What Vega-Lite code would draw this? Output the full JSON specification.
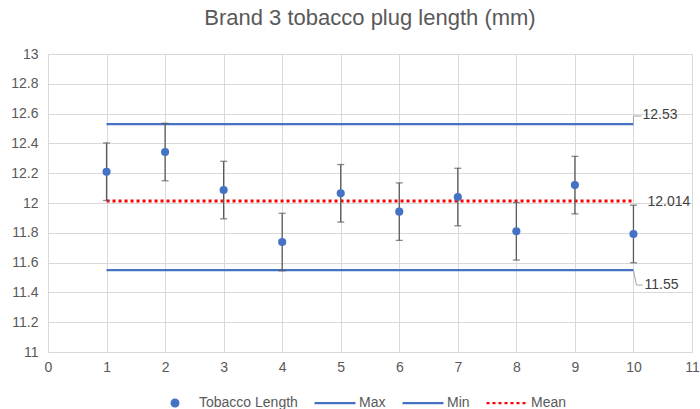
{
  "$schema": "https://vega.github.io/schema/vega-lite/v6.json",
  "width": 644,
  "height": 298,
  "autosize": {"type": "none"},
  "padding": {"left": 48, "top": 54, "right": 8, "bottom": 57},
  "background": "white",
  "title": {
    "text": "Brand 3 tobacco plug length (mm)",
    "font": "Liberation Sans",
    "fontSize": 22,
    "fontWeight": "normal",
    "color": "#595959",
    "anchor": "middle",
    "offset": 17
  },
  "config": {
    "view": {"stroke": null},
    "axis": {
      "labelFont": "Liberation Sans",
      "labelFontSize": 14,
      "labelColor": "#595959",
      "gridColor": "#d9d9d9",
      "gridWidth": 1,
      "domainColor": "#d9d9d9",
      "domainWidth": 1,
      "ticks": false,
      "title": null
    },
    "legend": {
      "labelFont": "Liberation Sans",
      "labelFontSize": 14,
      "labelColor": "#595959"
    }
  },
  "datasets": {
    "points": [
      {"sample": 1, "length": 12.21, "lo": 12.017, "hi": 12.403, "series": "Tobacco Length"},
      {"sample": 2, "length": 12.342, "lo": 12.149, "hi": 12.535, "series": "Tobacco Length"},
      {"sample": 3, "length": 12.087, "lo": 11.894, "hi": 12.28, "series": "Tobacco Length"},
      {"sample": 4, "length": 11.738, "lo": 11.545, "hi": 11.931, "series": "Tobacco Length"},
      {"sample": 5, "length": 12.065, "lo": 11.872, "hi": 12.258, "series": "Tobacco Length"},
      {"sample": 6, "length": 11.942, "lo": 11.749, "hi": 12.135, "series": "Tobacco Length"},
      {"sample": 7, "length": 12.04, "lo": 11.847, "hi": 12.233, "series": "Tobacco Length"},
      {"sample": 8, "length": 11.81, "lo": 11.617, "hi": 12.003, "series": "Tobacco Length"},
      {"sample": 9, "length": 12.12, "lo": 11.927, "hi": 12.313, "series": "Tobacco Length"},
      {"sample": 10, "length": 11.792, "lo": 11.599, "hi": 11.985, "series": "Tobacco Length"}
    ],
    "limits": [
      {"series": "Max", "start": 1, "end": 10, "value": 12.53, "label": "12.53"},
      {"series": "Min", "start": 1, "end": 10, "value": 11.55, "label": "11.55"},
      {"series": "Mean", "start": 1, "end": 10, "value": 12.014, "label": "12.014"}
    ]
  },
  "encoding": {
    "x": {
      "type": "quantitative",
      "scale": {"domain": [0, 11], "nice": false, "zero": false},
      "axis": {"values": [0,1,2,3,4,5,6,7,8,9,10,11], "labelPadding": 8, "labelFlush": false}
    },
    "y": {
      "type": "quantitative",
      "scale": {"domain": [11, 13], "nice": false, "zero": false},
      "axis": {"values": [11,11.2,11.4,11.6,11.8,12,12.2,12.4,12.6,12.8,13], "format": "~g", "labelPadding": 10, "labelFlush": false}
    }
  },
  "layer": [
    {
      "data": {"name": "limits"},
      "transform": [{"filter": "datum.series !== 'Mean'"}],
      "mark": {"type": "rule", "color": "#4472C4", "strokeWidth": 2.25},
      "encoding": {
        "x": {"field": "start", "type": "quantitative"},
        "x2": {"field": "end"},
        "y": {"field": "value", "type": "quantitative"}
      }
    },
    {
      "data": {"name": "limits"},
      "transform": [{"filter": "datum.series === 'Mean'"}],
      "mark": {"type": "rule", "color": "#FF0000", "strokeWidth": 3, "strokeDash": [3, 3]},
      "encoding": {
        "x": {"field": "start", "type": "quantitative"},
        "x2": {"field": "end"},
        "y": {"field": "value", "type": "quantitative"}
      }
    },
    {
      "data": {"name": "points"},
      "mark": {"type": "rule", "color": "#595959", "strokeWidth": 1.3},
      "encoding": {
        "x": {"field": "sample", "type": "quantitative"},
        "y": {"field": "lo", "type": "quantitative"},
        "y2": {"field": "hi"}
      }
    },
    {
      "data": {"name": "points"},
      "mark": {"type": "tick", "orient": "horizontal", "color": "#595959", "size": 7, "thickness": 1.3},
      "encoding": {
        "x": {"field": "sample", "type": "quantitative"},
        "y": {"field": "lo", "type": "quantitative"}
      }
    },
    {
      "data": {"name": "points"},
      "mark": {"type": "tick", "orient": "horizontal", "color": "#595959", "size": 7, "thickness": 1.3},
      "encoding": {
        "x": {"field": "sample", "type": "quantitative"},
        "y": {"field": "hi", "type": "quantitative"}
      }
    },
    {
      "data": {"name": "points"},
      "mark": {"type": "point", "shape": "circle", "filled": true, "size": 66, "opacity": 1},
      "encoding": {
        "x": {"field": "sample", "type": "quantitative"},
        "y": {"field": "length", "type": "quantitative"},
        "color": {
          "field": "series",
          "type": "nominal",
          "scale": {"domain": ["Tobacco Length", "Max", "Min", "Mean"], "range": ["#4472C4", "#4472C4", "#4472C4", "#FF0000"]},
          "legend": {
            "title": null,
            "orient": "none",
            "direction": "horizontal",
            "legendX": 105,
            "legendY": 341,
            "padding": 0,
            "clipHeight": 16,
            "symbolSize": 1681,
            "symbolStrokeWidth": 2.25,
            "labelOffset": 2,
            "columnPadding": 15,
            "encoding": {
              "symbols": {
                "shape": {"value": {"expr": "datum.value === 'Tobacco Length' ? 'M-0.22,0A0.22,0.22,0,1,0,0.22,0A0.22,0.22,0,1,0,-0.22,0Z' : 'stroke'"}},
                "fill": {"value": {"expr": "datum.value === 'Tobacco Length' ? '#4472C4' : 'transparent'"}},
                "stroke": {"value": {"expr": "datum.value === 'Mean' ? '#FF0000' : (datum.value === 'Tobacco Length' ? 'transparent' : '#4472C4')"}},
                "strokeDash": {"value": {"expr": "datum.value === 'Mean' ? [3, 3] : [1, 0]"}},
                "opacity": {"value": 1}
              }
            }
          }
        }
      }
    },
    {
      "data": {"name": "limits"},
      "transform": [{"filter": "datum.series === 'Max'"}],
      "mark": {"type": "text", "align": "left", "baseline": "middle", "dx": 9, "dy": -9, "font": "Liberation Sans", "fontSize": 14, "color": "#404040"},
      "encoding": {
        "x": {"field": "end", "type": "quantitative"},
        "y": {"field": "value", "type": "quantitative"},
        "text": {"field": "label"}
      }
    },
    {
      "data": {"name": "limits"},
      "transform": [{"filter": "datum.series === 'Mean'"}],
      "mark": {"type": "text", "align": "left", "baseline": "middle", "dx": 14, "dy": 1, "font": "Liberation Sans", "fontSize": 14, "color": "#404040"},
      "encoding": {
        "x": {"field": "end", "type": "quantitative"},
        "y": {"field": "value", "type": "quantitative"},
        "text": {"field": "label"}
      }
    },
    {
      "data": {"name": "limits"},
      "transform": [{"filter": "datum.series === 'Min'"}],
      "mark": {"type": "text", "align": "left", "baseline": "middle", "dx": 11, "dy": 15, "font": "Liberation Sans", "fontSize": 14, "color": "#404040"},
      "encoding": {
        "x": {"field": "end", "type": "quantitative"},
        "y": {"field": "value", "type": "quantitative"},
        "text": {"field": "label"}
      }
    },
    {
      "data": {"name": "limits"},
      "transform": [{"filter": "datum.series === 'Max'"}],
      "mark": {"type": "rule", "color": "#a6a6a6", "strokeWidth": 1, "y2Offset": -8},
      "encoding": {
        "x": {"field": "end", "type": "quantitative"},
        "y": {"field": "value", "type": "quantitative"},
        "y2": {"field": "value"}
      }
    },
    {
      "data": {"name": "limits"},
      "transform": [{"filter": "datum.series === 'Max'"}],
      "mark": {"type": "rule", "color": "#a6a6a6", "strokeWidth": 1, "yOffset": -8, "y2Offset": -8, "x2Offset": 8},
      "encoding": {
        "x": {"field": "end", "type": "quantitative"},
        "x2": {"field": "end"},
        "y": {"field": "value", "type": "quantitative"},
        "y2": {"field": "value"}
      }
    },
    {
      "data": {"name": "limits"},
      "transform": [{"filter": "datum.series === 'Min'"}],
      "mark": {"type": "rule", "color": "#a6a6a6", "strokeWidth": 1, "y2Offset": 15, "x2Offset": 3},
      "encoding": {
        "x": {"field": "end", "type": "quantitative"},
        "x2": {"field": "end"},
        "y": {"field": "value", "type": "quantitative"},
        "y2": {"field": "value"}
      }
    },
    {
      "data": {"name": "limits"},
      "transform": [{"filter": "datum.series === 'Min'"}],
      "mark": {"type": "rule", "color": "#a6a6a6", "strokeWidth": 1, "xOffset": 3, "yOffset": 15, "y2Offset": 15, "x2Offset": 9},
      "encoding": {
        "x": {"field": "end", "type": "quantitative"},
        "x2": {"field": "end"},
        "y": {"field": "value", "type": "quantitative"},
        "y2": {"field": "value"}
      }
    }
  ]
}
